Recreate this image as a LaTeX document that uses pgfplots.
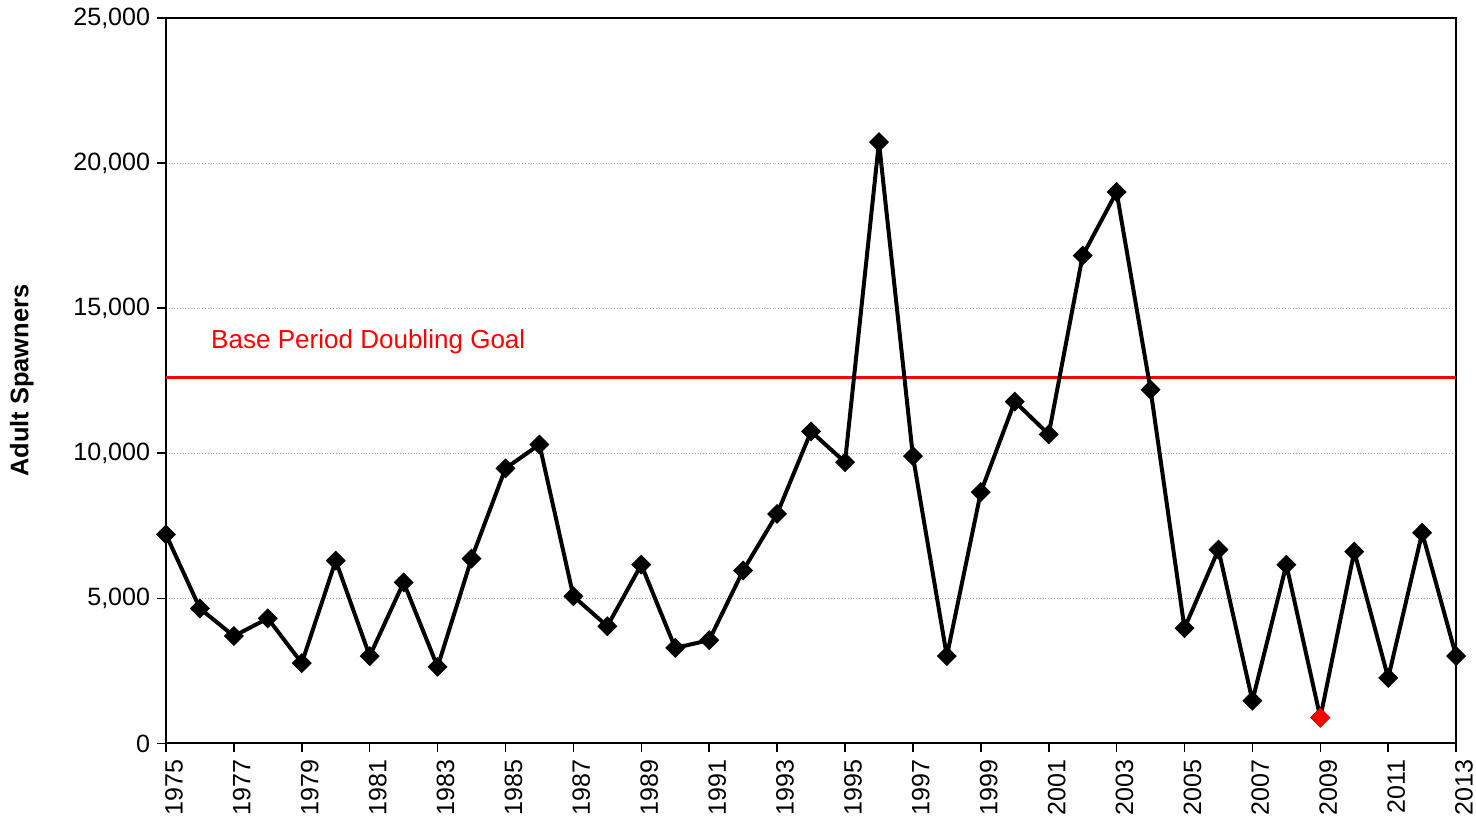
\documentclass[border=0pt]{standalone}
\usepackage{pgfplots}
\pgfplotsset{compat=1.18}
\usepackage{fontspec}
\setmainfont{Liberation Sans}
\begin{document}
\begin{tikzpicture}
\begin{axis}[
  at={(0,0)}, anchor=south west,
  scale only axis,
  width=649pt, height=365pt,
  xmin=1975, xmax=2013,
  ymin=0, ymax=25000,
  xtick={1975,1977,...,2013},
  ytick={0,5000,...,25000},
  tick align=outside,
  major tick length=4.5pt,
  xtick pos=bottom, ytick pos=left,
  axis line style={line width=1pt},
  tick style={line width=0.8pt, black},
  ymajorgrids,
  major grid style={gray!70, densely dotted, line width=0.5pt},
  /pgf/number format/assume math mode=true,
  /pgf/number format/1000 sep={,},
  xticklabel style={rotate=90, anchor=east, yshift=-4pt, /pgf/number format/1000 sep={}, font=\fontsize{12.6}{14}\selectfont},
  yticklabel style={font=\fontsize{12.6}{14}\selectfont},
  scaled y ticks=false,
  ylabel={\textbf{Adult Spawners}},
  ylabel style={font=\fontsize{12.8}{14}\selectfont, at={(axis description cs:-0.1117,0.5)}, anchor=center},
  clip=false,
]
\addplot[red, line width=1.6pt, forget plot] coordinates {(1975,12600) (2013,12600)};
\node[anchor=west, inner sep=0pt, text=red, font=\fontsize{13.1}{15}\selectfont] at (axis cs:1976.32,13840) {Base Period Doubling Goal};
\addplot[black, line width=2pt, line join=round, mark=square*, mark size=3.3pt, mark options={rotate=45, line width=0.5pt, line join=miter}] coordinates {
(1975,7200) (1976,4650) (1977,3700) (1978,4310) (1979,2770) (1980,6300)
(1981,3010) (1982,5550) (1983,2640) (1984,6370) (1985,9480) (1986,10300)
(1987,5070) (1988,4040) (1989,6160) (1990,3290) (1991,3560) (1992,5960)
(1993,7910) (1994,10750) (1995,9690) (1996,20720) (1997,9900) (1998,3010)
(1999,8660) (2000,11780) (2001,10650) (2002,16810) (2003,19000) (2004,12190)
(2005,3970) (2006,6680) (2007,1470) (2008,6160) (2009,890) (2010,6610)
(2011,2260) (2012,7260) (2013,3010)
};
\addplot[only marks, red, mark=square*, mark size=3.3pt, mark options={rotate=45, red}] coordinates {(2009,890)};
\end{axis}
\pgfresetboundingbox
\path[use as bounding box] (-83.5pt,-38pt) rectangle (659pt,374pt);
\end{tikzpicture}
\end{document}
